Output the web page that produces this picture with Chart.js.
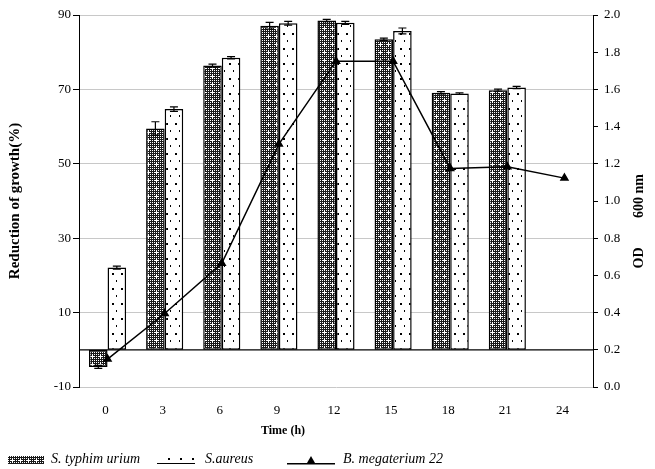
<!DOCTYPE html>
<html>
<head>
<meta charset="utf-8">
<script src="https://cdn.jsdelivr.net/npm/chart.js@4/dist/chart.umd.min.js"></script>
<style>
  html, body { margin: 0; padding: 0; background: #fff; }
  #wrap { width: 655px; height: 469px; }
</style>
</head>
<body>
<div id="wrap"><canvas id="growthChart" width="655" height="469"></canvas></div>
<script>
// data
const categories = ['0', '3', '6', '9', '12', '15', '18', '21', '24'];
const typhimurium = [-4.6, 59.5, 76.4, 87.1, 88.5, 83.5, 69.1, 69.8, null];
const typhimuriumErr = [0.4, 1.8, 0.4, 0.9, 0.3, 0.3, 0.3, 0.3, null];
const aureus = [22.1, 64.7, 78.5, 87.8, 87.9, 85.7, 68.9, 70.5, null];
const aureusErr = [0.4, 0.6, 0.3, 0.5, 0.4, 0.8, 0.2, 0.3, null];
const megaterium = [0.15, 0.395, 0.665, 1.306, 1.752, 1.752, 1.175, 1.184, 1.123];

const serif = '"Liberation Serif", "Times New Roman", serif';

// fill patterns for the bars
function checkPattern() {
  const c = document.createElement('canvas');
  c.width = 8; c.height = 8;
  const g = c.getContext('2d');
  g.fillStyle = '#1a1a1a';
  g.fillRect(0, 0, 8, 8);
  g.fillStyle = '#fff';
  for (let y = 0; y < 8; y++) {
    for (let x = 0; x < 8; x++) {
      if ((x + y) % 2 === 0 && x % 2 === 0) g.fillRect(x, y, 1, 1);
    }
  }
  g.fillRect(4, 3, 1, 3);
  g.fillRect(3, 4, 3, 1);
  return g.createPattern(c, 'repeat');
}

function dotPattern() {
  const c = document.createElement('canvas');
  c.width = 9; c.height = 15;
  const g = c.getContext('2d');
  g.fillStyle = '#fff';
  g.fillRect(0, 0, 9, 15);
  g.fillStyle = '#000';
  g.fillRect(4, 3, 2, 2);
  g.fillRect(8, 10, 1, 2);
  return g.createPattern(c, 'repeat');
}

const ctx = document.getElementById('growthChart').getContext('2d');
const checkFill = checkPattern();
const dotFill = dotPattern();

// zero line across the plot
const zeroLine = {
  id: 'zeroLine',
  beforeDatasetsDraw(chart) {
    const { ctx, chartArea, scales } = chart;
    const y = scales.y.getPixelForValue(0);
    ctx.save();
    ctx.strokeStyle = '#000';
    ctx.lineWidth = 1.2;
    ctx.beginPath();
    ctx.moveTo(chartArea.left, y);
    ctx.lineTo(chartArea.right, y);
    ctx.stroke();
    ctx.restore();
  }
};

// error whiskers on the bars
const errorBars = {
  id: 'errorBars',
  afterDatasetsDraw(chart) {
    const { ctx, scales } = chart;
    chart.data.datasets.forEach((ds, i) => {
      if (!ds.errors) return;
      const meta = chart.getDatasetMeta(i);
      ctx.save();
      ctx.strokeStyle = '#000';
      ctx.lineWidth = 1.2;
      meta.data.forEach((bar, j) => {
        const v = ds.data[j], e = ds.errors[j];
        if (v == null || !e) return;
        const top = scales.y.getPixelForValue(v + e);
        const bot = scales.y.getPixelForValue(v - e);
        ctx.beginPath();
        ctx.moveTo(bar.x, top); ctx.lineTo(bar.x, bot);
        ctx.moveTo(bar.x - 4, top); ctx.lineTo(bar.x + 4, top);
        ctx.moveTo(bar.x - 4, bot); ctx.lineTo(bar.x + 4, bot);
        ctx.stroke();
      });
      ctx.restore();
    });
  }
};

// axis titles that Chart.js can't place like the original, plus the legend
const extras = {
  id: 'extras',
  afterDraw(chart) {
    const { ctx } = chart;
    ctx.save();
    ctx.fillStyle = '#000';
    ctx.textAlign = 'center';
    ctx.textBaseline = 'middle';
    ctx.font = 'bold 12px ' + serif;
    ctx.fillText('Time (h)', 283, 431);
    ctx.font = 'bold 14px ' + serif;
    ctx.translate(639, 222);
    ctx.rotate(-Math.PI / 2);
    ctx.fillText('OD', -36, 0);
    ctx.fillText('600 nm', 26, 0);
    ctx.restore();

    const ly = 459;
    ctx.save();
    ctx.font = 'italic 14px ' + serif;
    ctx.textBaseline = 'middle';
    // S. typhimurium
    ctx.fillStyle = checkFill;
    ctx.fillRect(8, 456, 36, 8);
    ctx.fillStyle = '#000';
    ctx.fillText('S. typhim urium', 51, ly);
    // S. aureus
    ctx.fillRect(157, 463, 38, 1);
    [168, 180, 192].forEach(x => ctx.fillRect(x, 458, 2, 2));
    ctx.fillText('S.aureus', 205, ly);
    // B. megaterium
    ctx.fillRect(287, 463, 48, 1.5);
    ctx.beginPath();
    ctx.moveTo(311, 456); ctx.lineTo(315, 463); ctx.lineTo(307, 463);
    ctx.closePath(); ctx.fill();
    ctx.fillText('B. megaterium 22', 343, ly);
    ctx.restore();
  }
};

new Chart(ctx, {
  data: {
    labels: categories,
    datasets: [
      {
        type: 'line',
        label: 'B. megaterium 22',
        data: megaterium,
        yAxisID: 'y1',
        borderColor: '#000',
        borderWidth: 1.5,
        pointStyle: 'triangle',
        pointRadius: 4,
        pointBackgroundColor: '#000',
        pointBorderColor: '#000',
        tension: 0,
        order: 0
      },
      {
        type: 'bar',
        label: 'S. typhim urium',
        data: typhimurium,
        errors: typhimuriumErr,
        yAxisID: 'y',
        backgroundColor: checkFill,
        borderColor: '#000',
        borderWidth: 1.5,
        borderSkipped: false,
        order: 1
      },
      {
        type: 'bar',
        label: 'S.aureus',
        data: aureus,
        errors: aureusErr,
        yAxisID: 'y',
        backgroundColor: dotFill,
        borderColor: '#000',
        borderWidth: 1.5,
        borderSkipped: false,
        order: 1
      }
    ]
  },
  options: {
    responsive: false,
    animation: false,
    layout: { padding: { top: 15, right: 0, bottom: 30, left: 0 } },
    datasets: { bar: { categoryPercentage: 0.65, barPercentage: 1.0 } },
    plugins: {
      legend: { display: false },
      tooltip: { enabled: false }
    },
    scales: {
      x: {
        grid: { display: false },
        border: { display: false },
        ticks: { color: '#000', font: { family: serif, size: 13 }, labelOffset: -2, padding: 8 },
        afterFit(s) { s.height = 52; }
      },
      y: {
        position: 'left',
        min: -10,
        max: 90,
        ticks: { stepSize: 20, color: '#000', font: { family: serif, size: 13 }, padding: 2 },
        grid: { color: '#c8c8c8', tickColor: '#000', tickLength: 6 },
        border: { color: '#000', width: 1 },
        title: { display: true, text: 'Reduction of growth(%)', color: '#000', font: { family: serif, size: 15, weight: 'bold' }, padding: { top: 6, bottom: 0 } },
        afterFit(s) { s.width = 79; }
      },
      y1: {
        position: 'right',
        min: 0,
        max: 2,
        ticks: { stepSize: 0.2, color: '#000', font: { family: serif, size: 13 }, padding: 6, callback: v => v.toFixed(1) },
        grid: { drawOnChartArea: false, tickColor: '#000', tickLength: 5 },
        border: { color: '#000', width: 1 },
        afterFit(s) { s.width = 62; }
      }
    }
  },
  plugins: [zeroLine, errorBars, extras]
});
</script>
</body>
</html>
